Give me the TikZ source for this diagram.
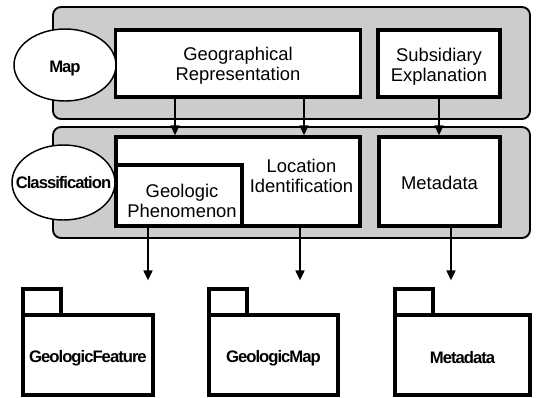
\documentclass[tikz,border=0pt]{standalone}
\usepackage{fontspec}
\setmainfont{Liberation Sans}
\newfontfamily\tightbold[LetterSpace=-6]{Liberation Sans}
\usetikzlibrary{arrows.meta,calc,shapes.geometric}
\begin{document}
\begin{tikzpicture}[x=0.75pt,y=-0.75pt,
 panel/.style={draw, line width=1.4pt, fill=black!20, rounded corners=6pt, inner sep=0pt, minimum width=357.75pt},
 box/.style={draw, line width=2.4pt, fill=white, inner sep=0pt},
 pkg/.style={draw, line width=2.3pt, inner sep=0pt},
 oval/.style={draw, ellipse, line width=1.1pt, fill=white, inner sep=0pt},
 txt/.style={font=\fontsize{13.8}{15}\selectfont, align=center, inner sep=0pt},
 btxt/.style={font=\tightbold\bfseries\fontsize{12.5}{14}\selectfont, inner sep=0pt},
 arr/.style={line width=2.2pt, -{Triangle[length=7.5pt,width=6.5pt]}},
]
\useasboundingbox (0,0) rectangle (536,397);
% panels
\node[panel, minimum height=84pt] (p1) at (291.5,63) {};
\node[panel, minimum height=83.25pt] (p2) at (291.5,182.5) {};
% top row boxes
\node[box, minimum width=183.75pt, minimum height=50.25pt] (geo) at (238,63.5) {};
\node[txt] (geoT) at (238,66) {Geographical\\Representation};
\node[box, minimum width=91.5pt, minimum height=50.25pt] (sub) at (439,63.5) {};
\node[txt] (subT) at (439,66.5) {Subsidiary\\Explanation};
% second row boxes
\node[box, minimum width=183pt, minimum height=66.75pt] (loc) at (238,181.5) {};
\node[txt] (locT) at (301.5,175.5) {Location\\Identification};
\node[box, minimum width=94.5pt, minimum height=45.75pt] (phen) at (179,195.5) {};
\node[txt] (phenT) at (182,200.5) {Geologic\\Phenomenon};
\node[box, minimum width=90.75pt, minimum height=66.75pt] (met) at (439.5,181.5) {};
\node[txt] (metT) at (439.5,183) {Metadata};
% ellipses
\node[oval, minimum width=76.5pt, minimum height=54pt] (map) at (65,65) {};
\node[btxt] (mapT) at (65,68) {Map};
\node[oval, minimum width=77.25pt, minimum height=56.25pt] (cls) at (63.5,182.5) {};
\node[btxt] (clsT) at (63.5,183) {Classification};
% packages
\node[pkg, minimum width=28.5pt, minimum height=19.5pt] (tab1) at (42,302) {};
\node[pkg, minimum width=97.5pt, minimum height=60pt] (gf) at (88,355) {};
\node[btxt] (gfT) at (88,358) {GeologicFeature};
\node[pkg, minimum width=28.5pt, minimum height=19.5pt] (tab2) at (228,302) {};
\node[pkg, minimum width=96.75pt, minimum height=60pt] (gm) at (273.5,355) {};
\node[btxt] (gmT) at (273.5,358) {GeologicMap};
\node[pkg, minimum width=28.5pt, minimum height=19.5pt] (tab3) at (414,302) {};
\node[pkg, minimum width=101.25pt, minimum height=60pt] (md) at (462.5,355) {};
\node[btxt] (mdT) at (462.5,358) {Metadata};
% arrows top
\draw[arr] ([xshift=-47.25pt]geo.south) -- ([xshift=-47.25pt]geo.south |- loc.north);
\draw[arr] ([xshift=49.5pt]geo.south) -- ([xshift=49.5pt]geo.south |- loc.north);
\draw[arr] (sub.south) -- (sub.south |- met.north);
% arrows down
\draw[arr, shorten >=5.25pt] ([xshift=-23.25pt]phen.south) -- ([xshift=-23.25pt]phen.south |- tab1.north);
\draw[arr, shorten >=5.25pt] ([xshift=46.5pt]loc.south) -- ([xshift=46.5pt]loc.south |- tab2.north);
\draw[arr, shorten >=5.25pt] ([xshift=8.625pt]met.south) -- ([xshift=8.625pt]met.south |- tab3.north);
\end{tikzpicture}
\end{document}
